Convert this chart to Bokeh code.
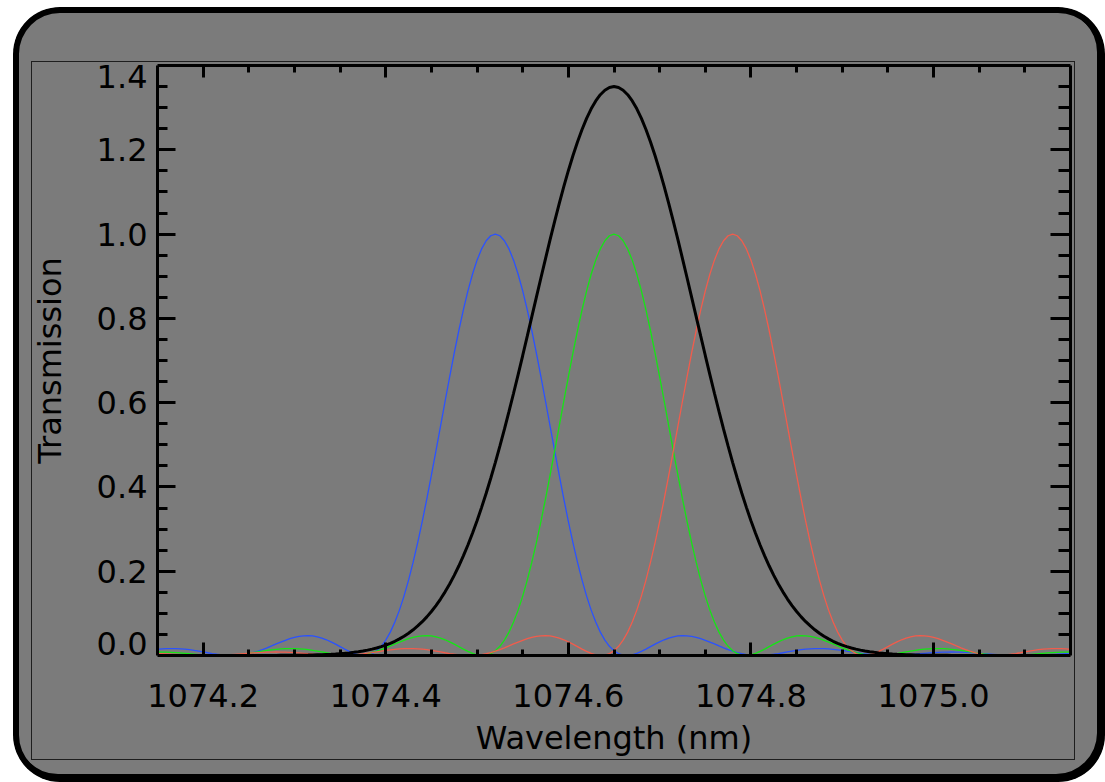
from bokeh.plotting import figure
from bokeh.models import Range1d, LinearAxis, FixedTicker, PrintfTickFormatter
from bokeh.embed import file_html
from bokeh.resources import INLINE

# ---------------- data ----------------
wavelength = [
    1074.150, 1074.155, 1074.160, 1074.165, 1074.170, 1074.175, 1074.180, 1074.185, 1074.190, 1074.195,
    1074.200, 1074.205, 1074.210, 1074.215, 1074.220, 1074.225, 1074.230, 1074.235, 1074.240, 1074.245,
    1074.250, 1074.255, 1074.260, 1074.265, 1074.270, 1074.275, 1074.280, 1074.285, 1074.290, 1074.295,
    1074.300, 1074.305, 1074.310, 1074.315, 1074.320, 1074.325, 1074.330, 1074.335, 1074.340, 1074.345,
    1074.350, 1074.355, 1074.360, 1074.365, 1074.370, 1074.375, 1074.380, 1074.385, 1074.390, 1074.395,
    1074.400, 1074.405, 1074.410, 1074.415, 1074.420, 1074.425, 1074.430, 1074.435, 1074.440, 1074.445,
    1074.450, 1074.455, 1074.460, 1074.465, 1074.470, 1074.475, 1074.480, 1074.485, 1074.490, 1074.495,
    1074.500, 1074.505, 1074.510, 1074.515, 1074.520, 1074.525, 1074.530, 1074.535, 1074.540, 1074.545,
    1074.550, 1074.555, 1074.560, 1074.565, 1074.570, 1074.575, 1074.580, 1074.585, 1074.590, 1074.595,
    1074.600, 1074.605, 1074.610, 1074.615, 1074.620, 1074.625, 1074.630, 1074.635, 1074.640, 1074.645,
    1074.650, 1074.655, 1074.660, 1074.665, 1074.670, 1074.675, 1074.680, 1074.685, 1074.690, 1074.695,
    1074.700, 1074.705, 1074.710, 1074.715, 1074.720, 1074.725, 1074.730, 1074.735, 1074.740, 1074.745,
    1074.750, 1074.755, 1074.760, 1074.765, 1074.770, 1074.775, 1074.780, 1074.785, 1074.790, 1074.795,
    1074.800, 1074.805, 1074.810, 1074.815, 1074.820, 1074.825, 1074.830, 1074.835, 1074.840, 1074.845,
    1074.850, 1074.855, 1074.860, 1074.865, 1074.870, 1074.875, 1074.880, 1074.885, 1074.890, 1074.895,
    1074.900, 1074.905, 1074.910, 1074.915, 1074.920, 1074.925, 1074.930, 1074.935, 1074.940, 1074.945,
    1074.950, 1074.955, 1074.960, 1074.965, 1074.970, 1074.975, 1074.980, 1074.985, 1074.990, 1074.995,
    1075.000, 1075.005, 1075.010, 1075.015, 1075.020, 1075.025, 1075.030, 1075.035, 1075.040, 1075.045,
    1075.050, 1075.055, 1075.060, 1075.065, 1075.070, 1075.075, 1075.080, 1075.085, 1075.090, 1075.095,
    1075.100, 1075.105, 1075.110, 1075.115, 1075.120, 1075.125, 1075.130, 1075.135, 1075.140, 1075.145,
    1075.150,
]

blue_transmission = [
    0.0146, 0.0156, 0.0162, 0.0165, 0.0163,
    0.0158, 0.0149, 0.0137, 0.0121, 0.0104, 0.0085, 0.0065, 0.0047, 0.0030, 0.0016,
    0.0006, 0.0000, 0.0001, 0.0008, 0.0022, 0.0042, 0.0069, 0.0102, 0.0140, 0.0183,
    0.0228, 0.0274, 0.0319, 0.0361, 0.0399, 0.0431, 0.0454, 0.0468, 0.0472, 0.0464,
    0.0444, 0.0414, 0.0373, 0.0324, 0.0269, 0.0210, 0.0151, 0.0096, 0.0049, 0.0016,
    0.0000, 0.0008, 0.0044, 0.0112, 0.0218, 0.0365, 0.0555, 0.0793, 0.1077, 0.1410,
    0.1789, 0.2214, 0.2680, 0.3184, 0.3719, 0.4280, 0.4858, 0.5445, 0.6033, 0.6612,
    0.7173, 0.7706, 0.8201, 0.8651, 0.9047, 0.9381, 0.9648, 0.9842, 0.9960,
    1.0000,
    0.9960, 0.9842, 0.9648, 0.9381, 0.9047, 0.8651, 0.8201, 0.7706, 0.7173,
    0.6612, 0.6033, 0.5445, 0.4858, 0.4280, 0.3719, 0.3184, 0.2680, 0.2214, 0.1789,
    0.1410, 0.1077, 0.0793, 0.0555, 0.0365, 0.0218, 0.0112, 0.0044, 0.0008, 0.0000,
    0.0016, 0.0049, 0.0096, 0.0151, 0.0210, 0.0269, 0.0324, 0.0373, 0.0414, 0.0444,
    0.0464, 0.0472, 0.0468, 0.0454, 0.0431, 0.0399, 0.0361, 0.0319, 0.0274, 0.0228,
    0.0183, 0.0140, 0.0102, 0.0069, 0.0042, 0.0022, 0.0008, 0.0001, 0.0000, 0.0006,
    0.0016, 0.0030, 0.0047, 0.0065, 0.0085, 0.0104, 0.0121, 0.0137, 0.0149, 0.0158,
    0.0163, 0.0165, 0.0162, 0.0156, 0.0146, 0.0134, 0.0120, 0.0104, 0.0087, 0.0070,
    0.0054, 0.0040, 0.0027, 0.0016, 0.0008, 0.0003, 0.0000, 0.0000, 0.0003, 0.0008,
    0.0015, 0.0023, 0.0033, 0.0042, 0.0052, 0.0061, 0.0068, 0.0075, 0.0080, 0.0082,
    0.0083, 0.0082, 0.0079, 0.0075, 0.0069, 0.0061, 0.0053, 0.0045, 0.0036, 0.0028,
    0.0020, 0.0013, 0.0008, 0.0004, 0.0001, 0.0000, 0.0000, 0.0002, 0.0005, 0.0010,
    0.0015, 0.0020, 0.0026, 0.0031, 0.0037, 0.0041, 0.0045,
]

green_transmission = [
    0.0083,
    0.0082, 0.0080, 0.0075, 0.0068, 0.0061, 0.0052, 0.0042, 0.0033, 0.0023, 0.0015,
    0.0008, 0.0003, 0.0000, 0.0000, 0.0003, 0.0008, 0.0016, 0.0027, 0.0040, 0.0054,
    0.0070, 0.0087, 0.0104, 0.0120, 0.0134, 0.0146, 0.0156, 0.0162, 0.0165, 0.0163,
    0.0158, 0.0149, 0.0137, 0.0121, 0.0104, 0.0085, 0.0065, 0.0047, 0.0030, 0.0016,
    0.0006, 0.0000, 0.0001, 0.0008, 0.0022, 0.0042, 0.0069, 0.0102, 0.0140, 0.0183,
    0.0228, 0.0274, 0.0319, 0.0361, 0.0399, 0.0431, 0.0454, 0.0468, 0.0472, 0.0464,
    0.0444, 0.0414, 0.0373, 0.0324, 0.0269, 0.0210, 0.0151, 0.0096, 0.0049, 0.0016,
    0.0000, 0.0008, 0.0044, 0.0112, 0.0218, 0.0365, 0.0555, 0.0793, 0.1077, 0.1410,
    0.1789, 0.2214, 0.2680, 0.3184, 0.3719, 0.4280, 0.4858, 0.5445, 0.6033, 0.6612,
    0.7173, 0.7706, 0.8201, 0.8651, 0.9047, 0.9381, 0.9648, 0.9842, 0.9960,
    1.0000,
    0.9960, 0.9842, 0.9648, 0.9381, 0.9047, 0.8651, 0.8201, 0.7706, 0.7173,
    0.6612, 0.6033, 0.5445, 0.4858, 0.4280, 0.3719, 0.3184, 0.2680, 0.2214, 0.1789,
    0.1410, 0.1077, 0.0793, 0.0555, 0.0365, 0.0218, 0.0112, 0.0044, 0.0008, 0.0000,
    0.0016, 0.0049, 0.0096, 0.0151, 0.0210, 0.0269, 0.0324, 0.0373, 0.0414, 0.0444,
    0.0464, 0.0472, 0.0468, 0.0454, 0.0431, 0.0399, 0.0361, 0.0319, 0.0274, 0.0228,
    0.0183, 0.0140, 0.0102, 0.0069, 0.0042, 0.0022, 0.0008, 0.0001, 0.0000, 0.0006,
    0.0016, 0.0030, 0.0047, 0.0065, 0.0085, 0.0104, 0.0121, 0.0137, 0.0149, 0.0158,
    0.0163, 0.0165, 0.0162, 0.0156, 0.0146, 0.0134, 0.0120, 0.0104, 0.0087, 0.0070,
    0.0054, 0.0040, 0.0027, 0.0016, 0.0008, 0.0003, 0.0000, 0.0000, 0.0003, 0.0008,
    0.0015, 0.0023, 0.0033, 0.0042, 0.0052, 0.0061, 0.0068, 0.0075, 0.0080, 0.0082,
    0.0083,
]

red_transmission = [
    0.0045, 0.0041, 0.0037, 0.0031, 0.0026, 0.0020, 0.0015,
    0.0010, 0.0005, 0.0002, 0.0000, 0.0000, 0.0001, 0.0004, 0.0008, 0.0013, 0.0020,
    0.0028, 0.0036, 0.0045, 0.0053, 0.0061, 0.0069, 0.0075, 0.0079, 0.0082, 0.0083,
    0.0082, 0.0080, 0.0075, 0.0068, 0.0061, 0.0052, 0.0042, 0.0033, 0.0023, 0.0015,
    0.0008, 0.0003, 0.0000, 0.0000, 0.0003, 0.0008, 0.0016, 0.0027, 0.0040, 0.0054,
    0.0070, 0.0087, 0.0104, 0.0120, 0.0134, 0.0146, 0.0156, 0.0162, 0.0165, 0.0163,
    0.0158, 0.0149, 0.0137, 0.0121, 0.0104, 0.0085, 0.0065, 0.0047, 0.0030, 0.0016,
    0.0006, 0.0000, 0.0001, 0.0008, 0.0022, 0.0042, 0.0069, 0.0102, 0.0140, 0.0183,
    0.0228, 0.0274, 0.0319, 0.0361, 0.0399, 0.0431, 0.0454, 0.0468, 0.0472, 0.0464,
    0.0444, 0.0414, 0.0373, 0.0324, 0.0269, 0.0210, 0.0151, 0.0096, 0.0049, 0.0016,
    0.0000, 0.0008, 0.0044, 0.0112, 0.0218, 0.0365, 0.0555, 0.0793, 0.1077, 0.1410,
    0.1789, 0.2214, 0.2680, 0.3184, 0.3719, 0.4280, 0.4858, 0.5445, 0.6033, 0.6612,
    0.7173, 0.7706, 0.8201, 0.8651, 0.9047, 0.9381, 0.9648, 0.9842, 0.9960,
    1.0000,
    0.9960, 0.9842, 0.9648, 0.9381, 0.9047, 0.8651, 0.8201, 0.7706, 0.7173,
    0.6612, 0.6033, 0.5445, 0.4858, 0.4280, 0.3719, 0.3184, 0.2680, 0.2214, 0.1789,
    0.1410, 0.1077, 0.0793, 0.0555, 0.0365, 0.0218, 0.0112, 0.0044, 0.0008, 0.0000,
    0.0016, 0.0049, 0.0096, 0.0151, 0.0210, 0.0269, 0.0324, 0.0373, 0.0414, 0.0444,
    0.0464, 0.0472, 0.0468, 0.0454, 0.0431, 0.0399, 0.0361, 0.0319, 0.0274, 0.0228,
    0.0183, 0.0140, 0.0102, 0.0069, 0.0042, 0.0022, 0.0008, 0.0001, 0.0000, 0.0006,
    0.0016, 0.0030, 0.0047, 0.0065, 0.0085, 0.0104, 0.0121, 0.0137, 0.0149, 0.0158,
    0.0163, 0.0165, 0.0162, 0.0156, 0.0146,
]

black_transmission = [
    0.0, 0.0, 0.0, 0.0, 0.0, 0.0, 0.0, 0.0, 0.0, 0.0, 0.0, 0.0, 0.0, 0.0, 0.0, 0.0, 0.0, 0.0, 0.0, 0.0, 0.0,
    0.0001, 0.0001, 0.0001, 0.0001, 0.0002, 0.0002, 0.0003, 0.0003, 0.0004, 0.0005,
    0.0007, 0.0008, 0.0010, 0.0013, 0.0016, 0.0019, 0.0024, 0.0029, 0.0035, 0.0043,
    0.0051, 0.0062, 0.0075, 0.0089, 0.0107, 0.0127, 0.0151, 0.0178, 0.0210, 0.0247,
    0.0290, 0.0338, 0.0394, 0.0457, 0.0529, 0.0610, 0.0701, 0.0803, 0.0917, 0.1044,
    0.1184, 0.1340, 0.1510, 0.1697, 0.1902, 0.2123, 0.2364, 0.2623, 0.2901, 0.3199,
    0.3515, 0.3851, 0.4205, 0.4577, 0.4966, 0.5371, 0.5791, 0.6223, 0.6667, 0.7118,
    0.7577, 0.8039, 0.8502, 0.8963, 0.9419, 0.9866, 1.0301, 1.0722, 1.1124, 1.1504,
    1.1859, 1.2186, 1.2482, 1.2744, 1.2971, 1.3159, 1.3307, 1.3414, 1.3478,
    1.3500,
    1.3478, 1.3414, 1.3307, 1.3159, 1.2971, 1.2744, 1.2482, 1.2186, 1.1859,
    1.1504, 1.1124, 1.0722, 1.0301, 0.9866, 0.9419, 0.8963, 0.8502, 0.8039, 0.7577,
    0.7118, 0.6667, 0.6223, 0.5791, 0.5371, 0.4966, 0.4577, 0.4205, 0.3851, 0.3515,
    0.3199, 0.2901, 0.2623, 0.2364, 0.2123, 0.1902, 0.1697, 0.1510, 0.1340, 0.1184,
    0.1044, 0.0917, 0.0803, 0.0701, 0.0610, 0.0529, 0.0457, 0.0394, 0.0338, 0.0290,
    0.0247, 0.0210, 0.0178, 0.0151, 0.0127, 0.0107, 0.0089, 0.0075, 0.0062, 0.0051,
    0.0043, 0.0035, 0.0029, 0.0024, 0.0019, 0.0016, 0.0013, 0.0010, 0.0008, 0.0007,
    0.0005, 0.0004, 0.0003, 0.0003, 0.0002, 0.0002, 0.0001, 0.0001, 0.0001, 0.0001,
    0.0, 0.0, 0.0, 0.0, 0.0, 0.0, 0.0, 0.0, 0.0, 0.0, 0.0, 0.0, 0.0, 0.0, 0.0, 0.0, 0.0, 0.0, 0.0, 0.0, 0.0,
]

x_major_ticks = [1074.2, 1074.4, 1074.6, 1074.8, 1075.0]
x_minor_ticks = [1074.25, 1074.30, 1074.35, 1074.45, 1074.50, 1074.55, 1074.65, 1074.70,
                 1074.75, 1074.85, 1074.90, 1074.95, 1075.05, 1075.10]
y_major_ticks = [0.2, 0.4, 0.6, 0.8, 1.0, 1.2]          # 0.0 and 1.4 lie on the frame edges
y_minor_ticks = [0.05, 0.10, 0.15, 0.25, 0.30, 0.35, 0.45, 0.50, 0.55, 0.65, 0.70, 0.75,
                 0.85, 0.90, 0.95, 1.05, 1.10, 1.15, 1.25, 1.30, 1.35]
# y tick labels; the end ones ("0.0", "1.4") are drawn just inside the axis span
y_label_spots = [0.029, 0.2, 0.4, 0.6, 0.8, 1.0, 1.2, 1.374]
x_title = "Wavelength (nm)"
y_title = "Transmission"

# ---------------- styling ----------------
FONT = "DejaVu Sans"
GRAY = "#7b7b7b"
LINE = "#1e1e1e"
BLUE = "#2a52ff"
GREEN = "#14e614"
RED = "#f25c4c"

W, H = 1092, 775   # placed at (13, 7) in the window

frame_css = {
    "margin-left": "13px",
    "margin-top": "7px",
    "border-radius": "47px",
    "overflow": "hidden",
    "background": (
        f"linear-gradient({LINE},{LINE}) 18px 54px / 1044px 1px no-repeat, "
        f"linear-gradient({LINE},{LINE}) 18px 752px / 1044px 1px no-repeat, "
        f"linear-gradient({LINE},{LINE}) 18px 54px / 1px 699px no-repeat, "
        f"linear-gradient({LINE},{LINE}) 1061px 54px / 1px 699px no-repeat, "
        f"{GRAY}"
    ),
    "box-shadow": "inset 0 0 0 6px #000, inset -2px -2px 0 6px #000",
}

p = figure(width=W, height=H,
           x_range=Range1d(1074.15, 1075.15), y_range=Range1d(0.0, 1.4),
           output_backend="svg", toolbar_location=None, title=None,
           x_axis_location=None, y_axis_location=None,
           min_border_left=144, min_border_right=35, min_border_top=58, min_border_bottom=127,
           background_fill_color=GRAY, border_fill_color=None, outline_line_color=None,
           styles=frame_css)
p.grid.visible = False


def make_axis(ticks, minor, tick_in, minor_in, labeled, **kw):
    ax = LinearAxis(ticker=FixedTicker(ticks=ticks, minor_ticks=minor),
                    formatter=PrintfTickFormatter(format="%.1f"), **kw)
    ax.axis_line_color = "black"
    ax.axis_line_width = 3
    ax.major_tick_in = tick_in
    ax.major_tick_out = 0
    ax.minor_tick_in = minor_in
    ax.minor_tick_out = 0
    ax.major_tick_line_color = "black"
    ax.major_tick_line_width = 3
    ax.minor_tick_line_color = "black"
    ax.minor_tick_line_width = 3
    ax.major_label_text_font = FONT
    if labeled:
        ax.major_label_text_font_size = "32px"
        ax.major_label_text_color = "black"
    else:
        ax.major_label_text_font_size = "1px"
        ax.major_label_text_color = None
        ax.major_label_standoff = 0
    ax.axis_label_text_font = FONT
    ax.axis_label_text_font_size = "32px"
    ax.axis_label_text_font_style = "normal"
    ax.axis_label_text_color = "black"
    return ax


bottom = make_axis(x_major_ticks, x_minor_ticks, 13, 6, True,
                   axis_label=x_title, major_label_standoff=28, axis_label_standoff=9)
top = make_axis(x_major_ticks, x_minor_ticks, 12, 7, False)
left_ticks = make_axis(y_major_ticks, y_minor_ticks, 18, 10, False)
left_labels = make_axis(y_label_spots, [], 0, 0, True,
                        axis_label=y_title, major_label_standoff=10, axis_label_standoff=25)
left_labels.axis_line_color = None
left_labels.major_tick_line_color = None
left_labels.minor_tick_line_color = None
right = make_axis(y_major_ticks, y_minor_ticks, 20, 12, False)

p.add_layout(bottom, "below")
p.add_layout(top, "above")
p.add_layout(left_ticks, "left")
p.add_layout(left_labels, "left")
p.add_layout(right, "right")

# curves
p.line(wavelength, blue_transmission, line_color=BLUE, line_width=1.3)
p.line(wavelength, green_transmission, line_color=GREEN, line_width=1.3)
p.line(wavelength, red_transmission, line_color=RED, line_width=1.3)
p.line(wavelength, black_transmission, line_color="black", line_width=3)

open("out.html", "w").write(file_html(p, INLINE))
